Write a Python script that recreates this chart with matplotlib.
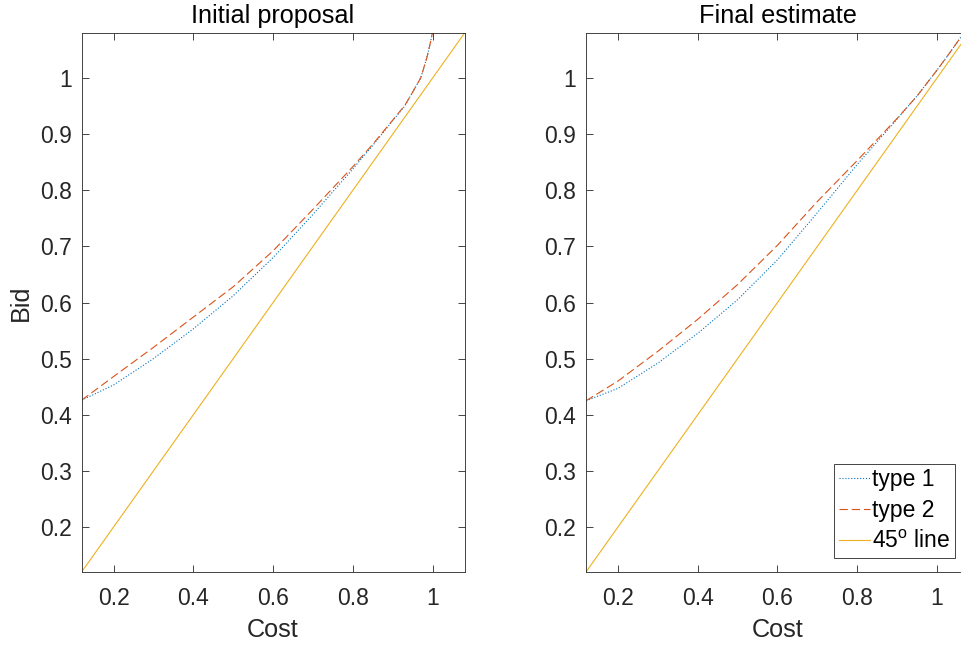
import matplotlib
matplotlib.use("Agg")
import matplotlib.pyplot as plt

plt.rcParams['font.family'] = ['Liberation Sans', 'DejaVu Sans']
plt.rcParams['mathtext.fontset'] = 'custom'
plt.rcParams['mathtext.rm'] = 'Liberation Sans'
plt.rcParams['mathtext.it'] = 'Liberation Sans'

# ---- data ----
cost_init_t1 = [0.12, 0.2, 0.3, 0.4, 0.5, 0.6, 0.7, 0.8, 0.85, 0.9, 0.93, 0.95, 0.97, 0.985, 0.995, 1.002]
bid_init_t1  = [0.426, 0.453, 0.500, 0.553, 0.612, 0.680, 0.757, 0.838, 0.880, 0.924, 0.950, 0.975, 1.000, 1.035, 1.065, 1.090]
cost_init_t2 = [0.12, 0.2, 0.3, 0.4, 0.5, 0.6, 0.7, 0.8, 0.85, 0.9, 0.93, 0.95, 0.97, 0.985, 0.995, 1.002]
bid_init_t2  = [0.426, 0.468, 0.520, 0.574, 0.628, 0.692, 0.766, 0.842, 0.882, 0.925, 0.951, 0.975, 1.000, 1.035, 1.065, 1.090]

cost_fin_t1 = [0.12, 0.2, 0.3, 0.4, 0.5, 0.6, 0.7, 0.8, 0.9, 0.95, 1.0, 1.03, 1.061, 1.08]
bid_fin_t1  = [0.425, 0.447, 0.492, 0.545, 0.605, 0.676, 0.760, 0.846, 0.927, 0.968, 1.014, 1.043, 1.074, 1.093]
cost_fin_t2 = [0.12, 0.2, 0.3, 0.4, 0.5, 0.6, 0.7, 0.8, 0.9, 0.95, 1.0, 1.03, 1.061, 1.08]
bid_fin_t2  = [0.425, 0.460, 0.513, 0.570, 0.632, 0.702, 0.780, 0.853, 0.928, 0.968, 1.014, 1.043, 1.074, 1.093]

line45 = [0.12, 1.08]
xticks = [0.2, 0.4, 0.6, 0.8, 1.0]
xticklabels = ['0.2', '0.4', '0.6', '0.8', '1']
yticks = [0.2, 0.3, 0.4, 0.5, 0.6, 0.7, 0.8, 0.9, 1.0]
yticklabels = ['0.2', '0.3', '0.4', '0.5', '0.6', '0.7', '0.8', '0.9', '1']
titles = ['Initial proposal', 'Final estimate']
legend_labels = ['type 1', 'type 2', r'45$^{\mathrm{o}}$ line']

C_BLUE = '#0072BD'
C_RED = '#D95319'
C_YEL = '#EDB120'
AX_COL = '#262626'

FS_TICK = 16.5
FS_LAB = 18.2

fig = plt.figure(figsize=(9.62, 6.45), dpi=100)
W, H = 962, 645
ax_w = 383 / W
ax_h = 539 / H
bottom = (H - 572) / H
axL = fig.add_axes([81.6 / W, bottom, ax_w, ax_h])
axR = fig.add_axes([586 / W, bottom, ax_w, ax_h])

datasets = [
    (axL, cost_init_t1, bid_init_t1, cost_init_t2, bid_init_t2),
    (axR, cost_fin_t1, bid_fin_t1, cost_fin_t2, bid_fin_t2),
]

for i, (ax, c1, b1, c2, b2) in enumerate(datasets):
    l1, = ax.plot(c1, b1, linestyle=':', color=C_BLUE, lw=0.8)
    l2, = ax.plot(c2, b2, linestyle=(0, (7.5, 3.5)), color=C_RED, lw=0.8)
    l3, = ax.plot(line45, line45, linestyle='-', color=C_YEL, lw=0.8)
    ax.set_xlim(0.12, 1.08)
    ax.set_ylim(0.12, 1.08)
    ax.set_xticks(xticks)
    ax.set_xticklabels(xticklabels)
    ax.set_yticks(yticks)
    ax.set_yticklabels(yticklabels)
    ax.tick_params(direction='in', top=True, right=True, length=5, width=0.6,
                   colors=AX_COL, labelsize=FS_TICK)
    ax.tick_params(axis='x', pad=11)
    ax.tick_params(axis='y', pad=7)
    for sp in ax.spines.values():
        sp.set_color(AX_COL)
        sp.set_linewidth(0.6)
    ax.set_title(titles[i], fontsize=FS_LAB, color='black', pad=7)
    ax.set_xlabel('Cost', fontsize=FS_LAB, color=AX_COL, labelpad=5.5)
    if i == 0:
        ax.set_ylabel('Bid', fontsize=FS_LAB, color=AX_COL, labelpad=5)
    else:
        leg = ax.legend([l1, l2, l3], legend_labels, loc='lower right',
                        bbox_to_anchor=(955 / W, (H - 558) / H),
                        bbox_transform=fig.transFigure, borderaxespad=0,
                        prop={'size': FS_TICK}, handlelength=1.36,
                        handletextpad=0.1, fancybox=False, framealpha=1,
                        edgecolor=AX_COL, borderpad=0.2, labelspacing=0.35)
        leg.get_frame().set_linewidth(0.6)

fig.savefig('out.png', dpi=100)
